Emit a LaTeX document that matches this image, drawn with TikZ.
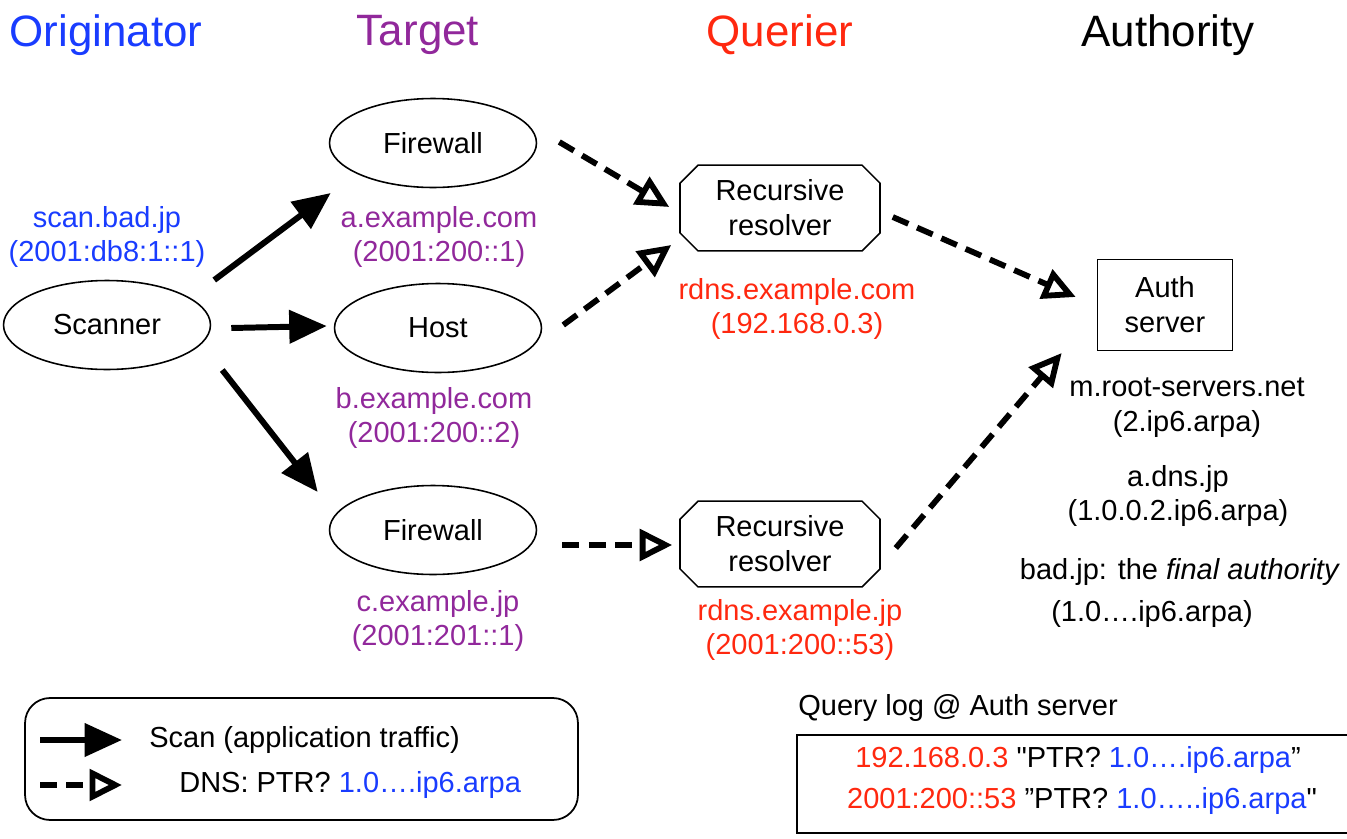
\documentclass[tikz,border=0pt]{standalone}
\usepackage{fontspec}
\setmainfont{Liberation Sans}
\usetikzlibrary{arrows.meta,shapes.geometric,shapes.misc}
\definecolor{origblue}{RGB}{25,60,255}
\definecolor{targpurple}{RGB}{145,40,155}
\definecolor{querred}{RGB}{255,40,15}

\begin{document}
\begin{tikzpicture}[x=0.02cm, y=-0.02cm, font=\fontsize{16.5}{19.8}\selectfont,
    main/.style = {draw, ellipse, line width=0.9pt, minimum width=4.14cm, minimum height=1.78cm},
    resolver/.style = {draw, chamfered rectangle, chamfered rectangle xsep=0.18cm, chamfered rectangle ysep=0.18cm, line width=0.9pt, minimum width=4cm, minimum height=1.5cm, align=center},
    server/.style = {draw, rectangle, line width=0.9pt, minimum width=2.7cm, minimum height=1.82cm, align=center},
    title/.style = {font=\fontsize{25}{30}\selectfont},
    lbl/.style = {align=center, inner sep=0pt},
    scan/.style = {line width=3.4pt, -{Triangle[length=0.75cm, width=0.65cm]}},
    dns/.style = {line width=3.3pt, dash pattern=on 0.34cm off 0.19cm, -{Triangle[open, length=0.65cm, width=0.62cm]}}]
  \useasboundingbox (0,0) rectangle (1347,839);

  % column titles
  \node[title, text=origblue] (t1) at (106,35) {Originator};
  \node[title, text=targpurple] (t2) at (418,35) {Target};
  \node[title, text=querred] (t3) at (780,35) {Querier};
  \node[title] (t4) at (1168,35) {Authority};

  % machines
  \node[main] (scanner) at (107,325) {Scanner};
  \node[main] (fw1) at (433,143) {Firewall};
  \node[main] (host) at (438,328) {Host};
  \node[main] (fw2) at (433,530) {Firewall};
  \node[resolver] (res1) at (780,208) {Recursive\\resolver};
  \node[resolver] (res2) at (780,544) {Recursive\\resolver};
  \node[server] (auth) at (1165,305) {Auth\\server};

  % names and addresses
  \node[lbl, text=origblue] (l0) at (107,237) {scan.bad.jp\\(2001:db8:1::1)};
  \node[lbl, text=targpurple] (l1) at (439,237) {a.example.com\\(2001:200::1)};
  \node[lbl, text=targpurple] (l2) at (434,418) {b.example.com\\(2001:200::2)};
  \node[lbl, text=targpurple] (l3) at (438,621) {c.example.jp\\(2001:201::1)};
  \node[lbl, text=querred] (l4) at (797,309) {rdns.example.com\\(192.168.0.3)};
  \node[lbl, text=querred] (l5) at (800,630) {rdns.example.jp\\(2001:200::53)};
  \node[lbl] (l6) at (1187,408) {m.root-servers.net\\(2.ip6.arpa)};
  \node[lbl] (l7) at (1178,496) {a.dns.jp\\(1.0.0.2.ip6.arpa)};
  \node[lbl] (l8) at (1180,572) {bad.jp: the \textit{final authority}};
  \node[lbl] (l9) at (1152,614) {(1.0….ip6.arpa)};

  % scan traffic
  \draw[scan] ([shift={(3,-45)}]scanner.east) -- ([shift={(2,50)}]fw1.west);
  \draw[scan] ([shift={(20,3)}]scanner.east) -- ([shift={(-7,-2)}]host.west);
  \draw[scan] ([shift={(11,45)}]scanner.east) -- ([shift={(-11,-38)}]fw2.west);

  % dns queries
  \draw[dns] ([shift={(22,-1)}]fw1.east) -- ([shift={(-10,-1)}]res1.west);
  \draw[dns] ([shift={(21,-3)}]host.east) -- ([shift={(-8,37)}]res1.west);
  \draw[dns] ([shift={(25,15)}]fw2.east) -- ([shift={(-7,1)}]res2.west);
  \draw[dns] ([shift={(12,9)}]res1.east) -- ([shift={(-21,-8)}]auth.west);
  \draw[dns] ([shift={(15,4)}]res2.east) -- ([shift={(-35,48)}]auth.west);

  % legend
  \node[draw, rounded corners=0.5cm, line width=1pt, minimum width=11.06cm, minimum height=2.44cm] (legend) at (301.5,759) {};
  \coordinate (k1a) at (40,740);
  \coordinate (k1b) at (122,740);
  \coordinate (k2a) at (40,785);
  \coordinate (k2b) at (122,785);
  \draw[scan] (k1a) -- (k1b);
  \draw[dns] (k2a) -- (k2b);
  \node[anchor=west, inner sep=0pt] (k1) at (149,740) {Scan (application traffic)};
  \node[anchor=west, inner sep=0pt] (k2) at (179,785) {DNS: PTR? \textcolor{origblue}{1.0….ip6.arpa}};

  % query log
  \node[anchor=west, inner sep=0pt] (qlog) at (798,708) {Query log @ Auth server};
  \draw[line width=0.9pt] (1347,735) -- (797,735) -- (797,833) -- (1347,833);
  \node (q1) at (1078,760) {\textcolor{querred}{192.168.0.3} \textquotedbl PTR? \textcolor{origblue}{1.0….ip6.arpa}”};
  \node (q2) at (1082,801) {\textcolor{querred}{2001:200::53} ”PTR? \textcolor{origblue}{1.0…..ip6.arpa}\textquotedbl};
\end{tikzpicture}
\end{document}
